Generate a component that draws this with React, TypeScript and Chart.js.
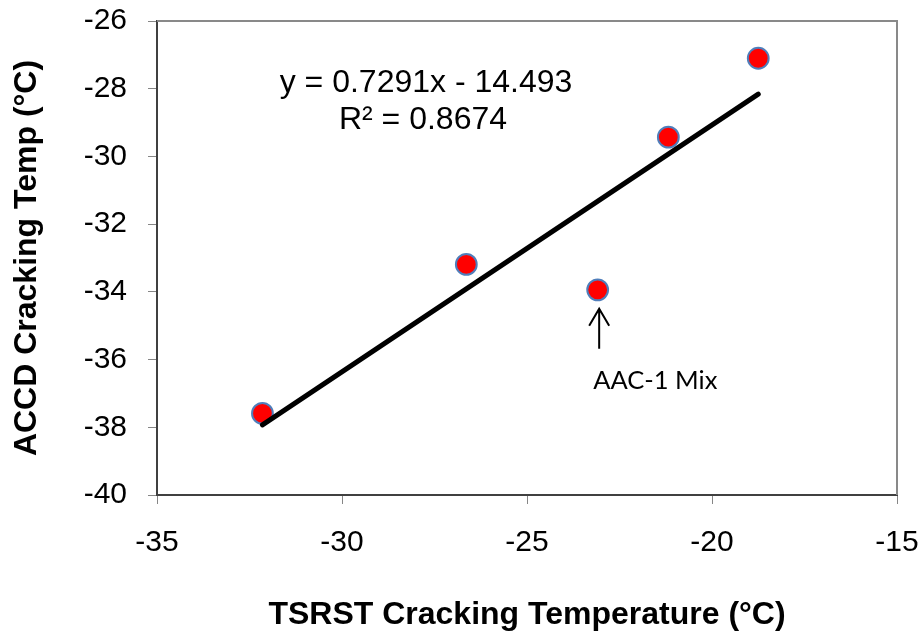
import React, { useEffect, useRef } from "react";
import { Chart, registerables } from "chart.js";

Chart.register(...registerables);

// Data
const tsrstTemps = [-32.15, -26.64, -23.09, -21.18, -18.75];
const accdTemps = [-37.59, -33.19, -33.94, -29.43, -27.1];
const trendX = [-32.15, -18.75];
const trendY = [-37.93, -28.16];
const equationLines = ["y = 0.7291x - 14.493", "R² = 0.8674"];
const annotationText = "AAC-1 Mix";
const annotatedIndex = 2;
const xTitle = "TSRST Cracking Temperature (°C)";
const yTitle = "ACCD Cracking Temp (°C)";

const FONT = "'Liberation Sans', Arial, sans-serif";

const decorPlugin = {
  id: "decor",
  beforeDatasetsDraw(chart: any) {
    const { ctx, chartArea } = chart;
    ctx.save();
    ctx.strokeStyle = "#898989";
    ctx.lineWidth = 2;
    ctx.beginPath();
    ctx.moveTo(chartArea.left, chartArea.top);
    ctx.lineTo(chartArea.right, chartArea.top);
    ctx.lineTo(chartArea.right, chartArea.bottom);
    ctx.stroke();
    ctx.restore();
  },
  afterDraw(chart: any) {
    const { ctx, chartArea } = chart;
    ctx.save();
    // trendline equation
    ctx.fillStyle = "#000";
    ctx.font = `32px ${FONT}`;
    ctx.textAlign = "center";
    ctx.textBaseline = "alphabetic";
    const cx = chartArea.left + 269;
    ctx.fillText(equationLines[0], cx, chartArea.top + 71);
    ctx.fillText(equationLines[1], cx - 3, chartArea.top + 108);

    // arrow + annotation for the outlier point
    const meta = chart.getDatasetMeta(1);
    const pt = meta.data[annotatedIndex];
    if (pt) {
      const ax = pt.x + 1.5;
      const tip = pt.y + 19;
      const tail = pt.y + 59;
      ctx.strokeStyle = "#000";
      ctx.lineWidth = 2;
      ctx.lineCap = "butt";
      ctx.beginPath();
      ctx.moveTo(ax, tail);
      ctx.lineTo(ax, tip);
      ctx.moveTo(ax - 10, tip + 17);
      ctx.lineTo(ax, tip);
      ctx.lineTo(ax + 10, tip + 17);
      ctx.stroke();
      ctx.font = `25.5px Lato, 'Open Sans', sans-serif`;
      ctx.textAlign = "left";
      ctx.fillText(annotationText, pt.x - 4.5, pt.y + 99);
    }
    ctx.restore();
  },
};

function zeroPadding(scale: any) {
  scale.paddingTop = 0;
  scale.paddingBottom = 0;
  scale.paddingLeft = 0;
  scale.paddingRight = 0;
}

export default function App() {
  const canvasRef = useRef<HTMLCanvasElement | null>(null);

  useEffect(() => {
    if (!canvasRef.current) return;
    const chart = new Chart(canvasRef.current, {
      type: "scatter",
      data: {
        datasets: [
          {
            label: "Linear trend",
            data: trendX.map((x, i) => ({ x, y: trendY[i] })),
            showLine: true,
            borderColor: "#000",
            borderWidth: 5,
            borderCapStyle: "round",
            pointRadius: 0,
            pointHoverRadius: 0,
            fill: false,
          },
          {
            label: "ACCD vs TSRST",
            data: tsrstTemps.map((x, i) => ({ x, y: accdTemps[i] })),
            backgroundColor: "#FF0000",
            borderColor: "#4F7EBB",
            borderWidth: 2,
            pointRadius: 10.4,
            pointHoverRadius: 10.4,
            showLine: false,
          },
        ],
      },
      options: {
        animation: false,
        responsive: false,
        maintainAspectRatio: false,
        events: [],
        layout: { padding: { left: 0, top: 21, right: 26, bottom: 0 } },
        plugins: {
          legend: { display: false },
          tooltip: { enabled: false },
        },
        scales: {
          x: {
            type: "linear",
            min: -35,
            max: -15,
            ticks: {
              stepSize: 5,
              color: "#000",
              padding: 21,
              font: { family: FONT, size: 30 },
            },
            grid: {
              display: true,
              drawOnChartArea: false,
              drawTicks: true,
              tickLength: 9,
              color: "#868686",
              lineWidth: 1,
            },
            border: { display: true, color: "#404040", width: 2 },
            title: {
              display: true,
              text: xTitle,
              color: "#000",
              font: { family: FONT, size: 32, weight: "bold" },
              padding: { top: 0, bottom: 1 },
            },
            afterFit(scale: any) {
              scale.height = 140;
              zeroPadding(scale);
            },
          },
          y: {
            type: "linear",
            min: -40,
            max: -26,
            ticks: {
              stepSize: 2,
              color: "#000",
              padding: 21,
              font: { family: FONT, size: 30 },
            },
            grid: {
              display: true,
              drawOnChartArea: false,
              drawTicks: true,
              tickLength: 9,
              color: "#868686",
              lineWidth: 1,
            },
            border: { display: true, color: "#404040", width: 2 },
            title: {
              display: true,
              text: yTitle,
              color: "#000",
              font: { family: FONT, size: 32, weight: "bold" },
              padding: { top: 8, bottom: 0 },
            },
            afterFit(scale: any) {
              scale.width = 157;
              zeroPadding(scale);
            },
          },
        },
      },
      plugins: [decorPlugin],
    } as any);
    return () => chart.destroy();
  }, []);

  return (
    <div style={{ position: "fixed", left: 0, top: 0, width: 923, height: 635, background: "#fff" }}>
      <canvas ref={canvasRef} width={923} height={635} style={{ display: "block" }} />
    </div>
  );
}
